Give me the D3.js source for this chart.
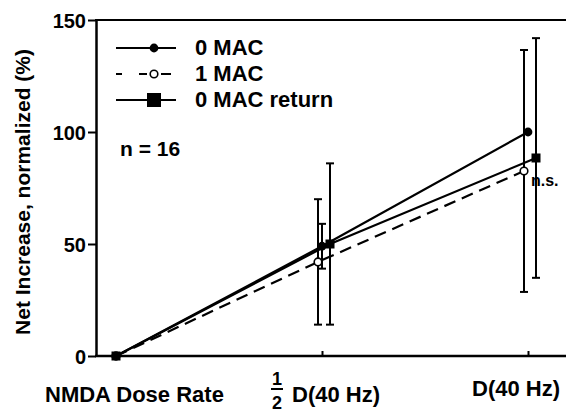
<!DOCTYPE html>
<html><head><meta charset="utf-8">
<script src="https://cdn.jsdelivr.net/npm/d3@7"></script>
<style>
body{margin:0;background:#fff;}
text{font-family:"Liberation Sans",Arial,sans-serif;font-weight:bold;fill:#000;}
</style></head>
<body><svg id="c" width="566" height="417"></svg>
<script>
// ---- data ----
const doses = [0, 0.5, 1];
const yTicks = [0, 50, 100, 150];
const seriesNames = ["0 MAC", "1 MAC", "0 MAC return"];
const mac0 = [0, 49, 100];
const mac0Err = [0, 10, 0];
const mac1 = [0, 42, 82.6];
const mac1Err = [0, 28, 54];
const mac0Return = [0, 50, 88.4];
const mac0ReturnErr = [0, 36, 53.5];
const xLabelMain = "NMDA Dose Rate";
const doseLabel = "D(40 Hz)";
const yLabel = "Net Increase, normalized (%)";
const nLabel = "n = 16";
const sigLabel = "n.s.";

// ---- layout / style ----
const svg = d3.select("#c");
const x = d3.scaleLinear().domain([0, 1]).range([116, 528]);
const y = d3.scaleLinear().domain([0, 150]).range([356, 20]);
const axisLeftX = 96, rightX = 566;
const styles = [
  {offset: 0, dash: null, marker: "filled"},
  {offset: -4, dash: "12,7", marker: "open"},
  {offset: 8, dash: null, marker: "square"}
];
const series = [
  {name: seriesNames[0], v: mac0, e: mac0Err},
  {name: seriesNames[1], v: mac1, e: mac1Err},
  {name: seriesNames[2], v: mac0Return, e: mac0ReturnErr}
].map((s, i) => Object.assign(s, styles[i]));

// axes
const yAxis = d3.axisLeft(y).tickValues(yTicks).tickSize(8).tickSizeOuter(0).tickPadding(2);
const gy = svg.append("g").attr("transform", `translate(${axisLeftX},0)`).call(yAxis);
gy.select(".domain").attr("stroke-width", 2.5);
gy.selectAll(".tick line").attr("stroke-width", 2);
gy.selectAll(".tick text").style("font-size", "20px").attr("dy", "0.36em");

const xAxis = d3.axisBottom(x).tickValues([0.5, 1]).tickSizeInner(-5).tickSizeOuter(0).tickFormat("");
const gx = svg.append("g").attr("transform", `translate(0,${y(0)})`).call(xAxis);
gx.select(".domain").remove();
gx.selectAll(".tick line").attr("stroke-width", 2);
svg.append("line").attr("x1", axisLeftX - 1).attr("x2", rightX).attr("y1", y(0)).attr("y2", y(0))
  .attr("stroke", "#000").attr("stroke-width", 2.5);
svg.append("line").attr("x1", axisLeftX - 1).attr("x2", rightX).attr("y1", y(150)).attr("y2", y(150))
  .attr("stroke", "#000").attr("stroke-width", 2);

const px = (s, i) => x(doses[i]) + (doses[i] > 0 ? s.offset : 0);

// error bars
series.forEach(s => {
  s.v.forEach((v, i) => {
    if (!s.e[i]) return;
    const cx = px(s, i), top = y(v + s.e[i]), bot = y(v - s.e[i]);
    const g = svg.append("g").attr("stroke", "#000").attr("stroke-width", 2);
    g.append("line").attr("x1", cx).attr("x2", cx).attr("y1", top).attr("y2", bot);
    g.append("line").attr("x1", cx - 4).attr("x2", cx + 4).attr("y1", top).attr("y2", top);
    g.append("line").attr("x1", cx - 4).attr("x2", cx + 4).attr("y1", bot).attr("y2", bot);
  });
});

// lines
series.forEach(s => {
  const line = d3.line().x((d, i) => px(s, i)).y(d => y(d));
  svg.append("path").datum(s.v).attr("d", line).attr("fill", "none").attr("stroke", "#000")
    .attr("stroke-width", 2.2).attr("stroke-dasharray", s.dash);
});

function marker(g, type, cx, cy, big) {
  if (type === "filled") g.append("circle").attr("cx", cx).attr("cy", cy).attr("r", 4.4).attr("fill", "#000");
  else if (type === "open") g.append("circle").attr("cx", cx).attr("cy", cy).attr("r", 3.8).attr("fill", "#fff").attr("stroke", "#000").attr("stroke-width", 1.6);
  else { const s = big ? 14 : 9; g.append("rect").attr("x", cx - s / 2).attr("y", cy - s / 2).attr("width", s).attr("height", s).attr("fill", "#000"); }
}
series.forEach(s => s.v.forEach((v, i) => marker(svg, s.marker, px(s, i), y(v), false)));

// legend
series.forEach((s, i) => {
  const ly = 48 + i * 26;
  const g = svg.append("g");
  if (s.dash) {
    [[116, 122], [139, 147], [161, 171]].forEach(([a, b]) =>
      g.append("line").attr("x1", a).attr("x2", b).attr("y1", ly).attr("y2", ly).attr("stroke", "#000").attr("stroke-width", 2));
  } else {
    g.append("line").attr("x1", 116).attr("x2", 176).attr("y1", ly).attr("y2", ly).attr("stroke", "#000").attr("stroke-width", 2);
  }
  marker(g, s.marker, 154, ly, true);
  g.append("text").attr("x", 195).attr("y", ly + 7).style("font-size", "22px").text(s.name);
});

svg.append("text").attr("x", 120).attr("y", 156).style("font-size", "21px").text(nLabel);
svg.append("text").attr("x", 531).attr("y", 186).style("font-size", "16px").text(sigLabel);

// x labels
svg.append("text").attr("x", 45).attr("y", 402).style("font-size", "22px").text(xLabelMain);
svg.append("text").attr("x", 277).attr("y", 385).attr("text-anchor", "middle").style("font-size", "18px").text("1");
svg.append("line").attr("x1", 271).attr("x2", 283).attr("y1", 389).attr("y2", 389).attr("stroke", "#000").attr("stroke-width", 2);
svg.append("text").attr("x", 277).attr("y", 409).attr("text-anchor", "middle").style("font-size", "18px").text("2");
svg.append("text").attr("x", x(0.5) - 30).attr("y", 402).style("font-size", "22px").text(doseLabel);
svg.append("text").attr("x", x(1) - 56).attr("y", 396).style("font-size", "22px").text(doseLabel);

// y label
svg.append("text").attr("transform", "translate(30,192) rotate(-90)").attr("text-anchor", "middle")
  .style("font-size", "21px").text(yLabel);
</script></body></html>
